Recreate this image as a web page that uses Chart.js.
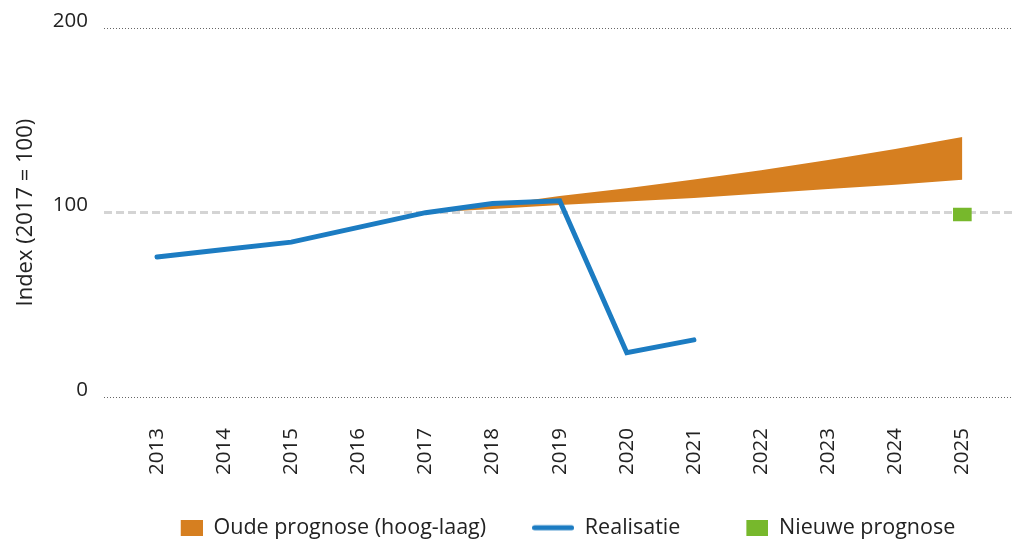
<!DOCTYPE html>
<html>
<head>
<meta charset="utf-8">
<script src="https://cdn.jsdelivr.net/npm/chart.js@4/dist/chart.umd.min.js"></script>
<style>
  html, body { margin: 0; padding: 0; background: #fff; }
  #wrap { width: 1013px; height: 540px; }
</style>
</head>
<body>
<div id="wrap"><canvas id="myChart"></canvas></div>
<script>
// data
const years = [2013, 2014, 2015, 2016, 2017, 2018, 2019, 2020, 2021, 2022, 2023, 2024, 2025];
const realisatie = [76, 80, 84, 92, 100, 105, 106.4, 24, 31, null, null, null, null];
const oudeHoog = [null, null, null, null, 100, 104, 109, 113.3, 118, 123, 128.5, 134.5, 141];
const oudeLaag = [null, null, null, null, 100, 102, 104.2, 106, 108, 110.4, 112.8, 115.1, 117.8];
const nieuwePrognose = [null, null, null, null, null, null, null, null, null, null, null, null, [95.5, 102.5]];
const yTicks = [0, 100, 200];

const ORANGE = "#d67f20";
const BLUE = "#1c7cc2";
const GREEN = "#77b82c";

const LEGEND_PAD = 46;
const MARKER_W = 42;

const pts = arr => years.map((x, i) => ({ x: x, y: arr[i] }));

// legend markers: all the same width so the text lines up, square ones sit on the right
function marker(kind, color) {
  const c = document.createElement("canvas");
  c.width = MARKER_W;
  c.height = 16;
  const g = c.getContext("2d");
  if (kind === "line") {
    g.strokeStyle = color;
    g.lineWidth = 5;
    g.lineCap = "round";
    g.beginPath();
    g.moveTo(2.5, 8);
    g.lineTo(MARKER_W - 2.5, 8);
    g.stroke();
  } else {
    g.fillStyle = color;
    g.fillRect(MARKER_W - 22, 0, 22, 16);
  }
  return c;
}

Chart.defaults.font.family = "'Open Sans', sans-serif";
Chart.defaults.font.size = 20;
Chart.defaults.color = "#222";

// centre the legend under the plot area and lift it a little
const legendUnderPlot = {
  id: "legendUnderPlot",
  afterLayout(chart) {
    const l = chart.legend, a = chart.chartArea;
    const shift = (a.left + a.right) / 2 - (l.left + l.right) / 2;
    l.left += shift;
    l.right += shift;
    l.top -= 6;
  }
};

const ctx = document.getElementById('myChart');

new Chart(ctx, {
  type: "line",
  data: {
    datasets: [
      {
        label: "Oude prognose (hoog-laag)",
        data: pts(oudeHoog),
        borderWidth: 0,
        borderColor: ORANGE,
        backgroundColor: ORANGE,
        pointRadius: 0,
        pointStyle: marker("box", ORANGE),
        fill: "+1",
        order: 3
      },
      {
        label: "",
        data: pts(oudeLaag),
        borderWidth: 0,
        borderColor: ORANGE,
        backgroundColor: ORANGE,
        pointRadius: 0,
        fill: false,
        order: 3
      },
      {
        label: "Realisatie",
        data: pts(realisatie),
        borderColor: BLUE,
        backgroundColor: BLUE,
        borderWidth: 5,
        borderCapStyle: "round",
        borderJoinStyle: "miter",
        pointRadius: 0,
        pointStyle: marker("line", BLUE),
        tension: 0,
        fill: false,
        order: 1
      },
      {
        type: "bar",
        label: "Nieuwe prognose",
        data: pts(nieuwePrognose),
        backgroundColor: GREEN,
        borderWidth: 0,
        barThickness: 18,
        pointStyle: marker("box", GREEN),
        order: 0
      }
    ]
  },
  options: {
    responsive: true,
    maintainAspectRatio: false,
    animation: false,
    layout: { padding: { left: 0, right: 1, top: 21, bottom: 0 } },
    scales: {
      x: {
        type: "linear",
        min: 2012.21,
        max: 2025.74,
        offset: false,
        grid: { display: false, drawTicks: false, offset: false },
        border: { display: false },
        afterBuildTicks: s => { s.ticks = years.map(v => ({ value: v })); },
        afterFit: s => {
          s.height = 80;
          s.paddingLeft = 0;
          s.paddingRight = 0;
        },
        ticks: {
          autoSkip: false,
          minRotation: 90,
          maxRotation: 90,
          padding: 31,
          font: { size: 20.5 },
          callback: v => String(v)
        }
      },
      y: {
        min: 0,
        max: 200,
        afterBuildTicks: s => { s.ticks = yTicks.map(v => ({ value: v })); },
        afterFit: s => { s.width = 104; },
        grid: {
          drawTicks: false,
          color: c => c.tick && c.tick.value === 100 ? "#d4d4d4" : "#666",
          lineWidth: c => c.tick && c.tick.value === 100 ? 3 : 1
        },
        border: {
          display: false,
          dash: c => c.tick && c.tick.value === 100 ? [8, 4] : [1, 2]
        },
        ticks: { padding: 16, labelOffset: -7, font: { size: 20.5 } },
        title: {
          display: true,
          text: "Index (2017 = 100)",
          font: { size: 22 },
          padding: { top: 13, bottom: 0 }
        }
      }
    },
    plugins: {
      tooltip: { enabled: false },
      legend: {
        display: true,
        position: "bottom",
        maxHeight: 63,
        labels: {
          usePointStyle: true,
          pointStyleWidth: MARKER_W,
          boxHeight: 16,
          padding: LEGEND_PAD,
          font: { size: 21.5 },
          filter: item => item.text !== "",
          sort: (a, b) => a.datasetIndex - b.datasetIndex
        }
      }
    }
  },
  plugins: [legendUnderPlot]
});
</script>
</body>
</html>
